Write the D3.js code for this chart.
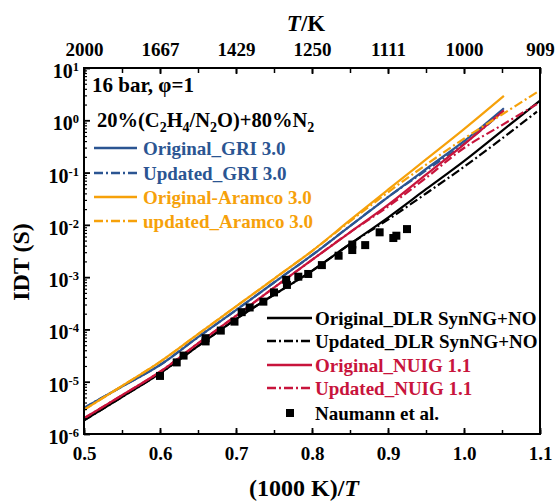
<!DOCTYPE html>
<html>
<head>
<meta charset="utf-8">
<script src="https://cdn.jsdelivr.net/npm/d3@7"></script>
<style>
  body { margin: 0; background: #fff; }
  svg text { font-family: "Liberation Serif", "Times New Roman", serif; font-weight: bold; }
</style>
</head>
<body>
<svg id="chart" width="558" height="501"></svg>
<script>
/* ---------------- DATA ---------------- */
const xTicks = [0.5, 0.6, 0.7, 0.8, 0.9, 1.0, 1.1];
const tempLabels = ["2000", "1667", "1429", "1250", "1111", "1000", "909"];
const decades = [1e-6, 1e-5, 1e-4, 1e-3, 1e-2, 1e-1, 1e0, 1e1];
const decadeExps = ["-6", "-5", "-4", "-3", "-2", "-1", "0", "1"];

const xGrid = [0.5, 0.55, 0.6, 0.65, 0.7, 0.75, 0.8, 0.85, 0.9, 0.95, 1.0];

const gri = [3.16e-6, 8.1e-6, 2.09e-5, 7.1e-5, 2.34e-4, 7.9e-4, 2.63e-3, 9.5e-3, 3.4e-2, 0.117, 0.398];
const griEnd = [1.0525, 1.70];
const griUpd = [3.16e-6, 8.1e-6, 2.09e-5, 7.1e-5, 2.34e-4, 7.9e-4, 2.63e-3, 9.5e-3, 3.4e-2, 0.110, 0.355];
const griUpdEnd = [1.05, 1.41];

const aramco = [2.9e-6, 8.3e-6, 2.4e-5, 8.1e-5, 2.75e-4, 9.3e-4, 3.16e-3, 1.23e-2, 4.7e-2, 0.178, 0.676];
const aramcoEnd = [1.0525, 2.92];
const aramcoUpd = [2.9e-6, 8.3e-6, 2.4e-5, 8.1e-5, 2.75e-4, 9.3e-4, 3.16e-3, 1.17e-2, 4.2e-2, 0.141, 0.447];
const aramcoUpdEnd = [[1.05, 1.29], [1.096, 3.43]];

const dlr = [1.82e-6, 5.1e-6, 1.45e-5, 4.8e-5, 1.58e-4, 4.6e-4, 1.32e-3, 4.3e-3, 1.38e-2, 4.8e-2, 0.166];
const dlrEnd = [[1.05, 0.63], [1.1, 2.37]];
const dlrUpd = [1.82e-6, 5.1e-6, 1.45e-5, 4.8e-5, 1.58e-4, 4.6e-4, 1.32e-3, 4.3e-3, 1.26e-2, 3.98e-2, 0.129];
const dlrUpdEnd = [[1.05, 0.447], [1.096, 1.46]];

const nuig = [2.0e-6, 5.5e-6, 1.55e-5, 5.4e-5, 1.82e-4, 6.3e-4, 2.14e-3, 7.2e-3, 2.4e-2, 9.1e-2, 0.347];
const nuigEnd = [1.0525, 1.55];
const nuigUpd = [2.0e-6, 5.5e-6, 1.55e-5, 5.4e-5, 1.82e-4, 6.3e-4, 2.14e-3, 7.2e-3, 2.24e-2, 7.9e-2, 0.295];
const nuigUpdEnd = [[1.05, 0.81], [1.096, 2.04]];

const expX = [0.600, 0.622, 0.631, 0.660, 0.660, 0.680, 0.698, 0.7075, 0.718, 0.736, 0.750, 0.766,
              0.767, 0.782, 0.795, 0.813, 0.835, 0.853, 0.853, 0.870, 0.889, 0.907, 0.911, 0.925];
const expIDT = [1.29e-5, 2.34e-5, 3.16e-5, 6.8e-5, 5.9e-5, 9.5e-5, 1.41e-4, 2.14e-4, 2.63e-4, 3.4e-4, 5.1e-4, 8.9e-4,
                7.1e-4, 1.02e-3, 1.15e-3, 1.70e-3, 2.57e-3, 4.2e-3, 3.3e-3, 4.1e-3, 7.2e-3, 5.6e-3, 6.2e-3, 8.3e-3];

const BLUE = "#2b5592", ORANGE = "#f6a10a", RED = "#c8143c", BLACK = "#000";
const DASHDOT = "9,3,2,3";

function pts(vals, tail) {
  const p = xGrid.map((x, i) => [x, vals[i]]);
  if (Array.isArray(tail[0])) tail.forEach(t => p.push(t)); else p.push(tail);
  return p;
}

const series = [
  { name: "Original_DLR SynNG+NO", data: pts(dlr, dlrEnd), color: BLACK, dash: null },
  { name: "Updated_DLR SynNG+NO", data: pts(dlrUpd, dlrUpdEnd), color: BLACK, dash: DASHDOT },
  { name: "Original_GRI 3.0", data: pts(gri, griEnd), color: BLUE, dash: null },
  { name: "Updated_GRI 3.0", data: pts(griUpd, griUpdEnd), color: BLUE, dash: DASHDOT },
  { name: "Original_NUIG 1.1", data: pts(nuig, nuigEnd), color: RED, dash: null },
  { name: "Updated_NUIG 1.1", data: pts(nuigUpd, nuigUpdEnd), color: RED, dash: DASHDOT },
  { name: "Original-Aramco 3.0", data: pts(aramco, aramcoEnd), color: ORANGE, dash: null },
  { name: "updated_Aramco 3.0", data: pts(aramcoUpd, aramcoUpdEnd), color: ORANGE, dash: DASHDOT }
];

/* ---------------- SETUP ---------------- */
const svg = d3.select("#chart");
const L = 84, R = 540, T = 68, B = 434;

const x = d3.scaleLinear().domain([0.5, 1.1]).range([L, R]);
const y = d3.scaleLog().domain([1e-6, 1e1]).range([B, T]);

/* ---------------- CURVES ---------------- */
const line = d3.line().x(d => x(d[0])).y(d => y(d[1])).curve(d3.curveCatmullRom.alpha(0.5));

svg.append("g").selectAll("path")
  .data(series)
  .enter()
  .append("path")
  .attr("d", d => line(d.data))
  .attr("fill", "none")
  .attr("stroke", d => d.color)
  .attr("stroke-width", 2.2)
  .attr("stroke-dasharray", d => d.dash);

/* experimental points */
svg.append("g").selectAll("rect")
  .data(expX.map((v, i) => [v, expIDT[i]]))
  .enter()
  .append("rect")
  .attr("x", d => x(d[0]) - 4)
  .attr("y", d => y(d[1]) - 4)
  .attr("width", 8)
  .attr("height", 8)
  .attr("fill", "#000");

/* ---------------- AXES ---------------- */
const minorX = d3.range(0.5, 1.1001, 0.05);

svg.append("g")
  .attr("transform", `translate(0,${B})`)
  .call(d3.axisBottom(x).tickValues(minorX).tickSize(-4).tickFormat(""))
  .call(g => g.select(".domain").remove())
  .call(g => g.selectAll("line").attr("stroke-width", 1.5));

svg.append("g")
  .attr("transform", `translate(0,${B})`)
  .call(d3.axisBottom(x).tickValues(xTicks).tickSize(-6).tickFormat(d3.format(".1f")))
  .call(g => g.select(".domain").remove())
  .call(g => g.selectAll("line").attr("stroke-width", 1.8))
  .call(g => g.selectAll("text").attr("y", 26).attr("dy", null)
    .attr("font-size", 19).attr("fill", "#000"));

svg.append("g")
  .attr("transform", `translate(0,${T})`)
  .call(d3.axisTop(x).tickValues(minorX).tickSize(-5).tickFormat(""))
  .call(g => g.select(".domain").remove())
  .call(g => g.selectAll("line").attr("stroke-width", 1.5));

svg.append("g")
  .attr("transform", `translate(0,${T})`)
  .call(d3.axisTop(x).tickValues(xTicks).tickSize(-6).tickFormat((d, i) => tempLabels[i]))
  .call(g => g.select(".domain").remove())
  .call(g => g.selectAll("line").attr("stroke-width", 1.8))
  .call(g => g.selectAll("text").attr("y", -12).attr("dy", null)
    .attr("font-size", 19).attr("fill", "#000"));

/* left axis with log minor ticks */
const minorY = [];
decades.slice(0, -1).forEach(d => { for (let k = 2; k <= 9; k++) minorY.push(d * k); });

svg.append("g")
  .attr("transform", `translate(${L},0)`)
  .call(d3.axisLeft(y).tickValues(minorY).tickSize(-3).tickFormat(""))
  .call(g => g.select(".domain").remove())
  .call(g => g.selectAll("line").attr("stroke-width", 1.2));

svg.append("g")
  .attr("transform", `translate(${L},0)`)
  .call(d3.axisLeft(y).tickValues(decades).tickSize(-6).tickFormat(""))
  .call(g => g.select(".domain").remove())
  .call(g => g.selectAll("line").attr("stroke-width", 1.8));

const yLab = svg.append("g").selectAll("text")
  .data(decades)
  .enter()
  .append("text")
  .attr("x", L - 5)
  .attr("y", d => y(d) + 10)
  .attr("text-anchor", "end")
  .attr("font-size", 20);
yLab.append("tspan").text("10");
yLab.append("tspan").text((d, i) => decadeExps[i])
  .attr("font-size", 12.5).attr("dy", -7);

/* frame */
svg.append("rect")
  .attr("x", L).attr("y", T)
  .attr("width", R - L).attr("height", B - T)
  .attr("fill", "none").attr("stroke", "#000").attr("stroke-width", 2);

/* ---------------- TITLES ---------------- */
svg.append("text")
  .attr("transform", "translate(29,262) rotate(-90)")
  .attr("text-anchor", "middle")
  .attr("font-size", 24)
  .text("IDT (S)");

const xt = svg.append("text")
  .attr("x", 304).attr("y", 496)
  .attr("text-anchor", "middle")
  .attr("font-size", 24);
xt.append("tspan").text("(1000 K)/");
xt.append("tspan").text("T").attr("font-style", "italic");

const tt = svg.append("text")
  .attr("x", 306).attr("y", 31)
  .attr("text-anchor", "middle")
  .attr("font-size", 23);
tt.append("tspan").text("T").attr("font-style", "italic");
tt.append("tspan").text("/K");

/* ---------------- ANNOTATION ---------------- */
svg.append("text").attr("x", 92).attr("y", 92).attr("font-size", 21).text("16 bar, φ=1");

const mix = svg.append("text").attr("x", 97).attr("y", 127).attr("font-size", 20.5);
[["20%(C", 0], ["2", 1], ["H", 0], ["4", 1], ["/N", 0], ["2", 1], ["O)+80%N", 0], ["2", 1]]
  .forEach(([s, sub], i, arr) => {
    const prevSub = i > 0 ? arr[i - 1][1] : 0;
    const dy = sub && !prevSub ? 5 : (!sub && prevSub ? -5 : 0);
    mix.append("tspan").text(s)
      .attr("font-size", sub ? 14 : 20.5)
      .attr("dy", dy || null);
  });

/* ---------------- LEGENDS ---------------- */
const leg1 = ["Original_GRI 3.0", "Updated_GRI 3.0", "Original-Aramco 3.0", "updated_Aramco 3.0"];
const leg1Y = [148, 173, 197, 221];
const leg2 = ["Original_DLR SynNG+NO", "Updated_DLR SynNG+NO", "Original_NUIG 1.1", "Updated_NUIG 1.1"];
const leg2Y = [318, 341, 365, 388];

function legendRow(s, x0, x1, tx, cy) {
  svg.append("line")
    .attr("x1", x0).attr("x2", x1).attr("y1", cy).attr("y2", cy)
    .attr("stroke", s.color).attr("stroke-width", 2.4)
    .attr("stroke-dasharray", s.dash);
  svg.append("text")
    .attr("x", tx).attr("y", cy + 6.5)
    .attr("font-size", 19)
    .attr("fill", s.color)
    .text(s.name);
}

leg1.forEach((n, i) => legendRow(series.find(s => s.name === n), 94, 137, 143, leg1Y[i]));
leg2.forEach((n, i) => legendRow(series.find(s => s.name === n), 267, 312, 315, leg2Y[i]));

svg.append("rect").attr("x", 286).attr("y", 409).attr("width", 8).attr("height", 8).attr("fill", "#000");
svg.append("text").attr("x", 315).attr("y", 419.5).attr("font-size", 19).text("Naumann et al.");
</script>
</body>
</html>
